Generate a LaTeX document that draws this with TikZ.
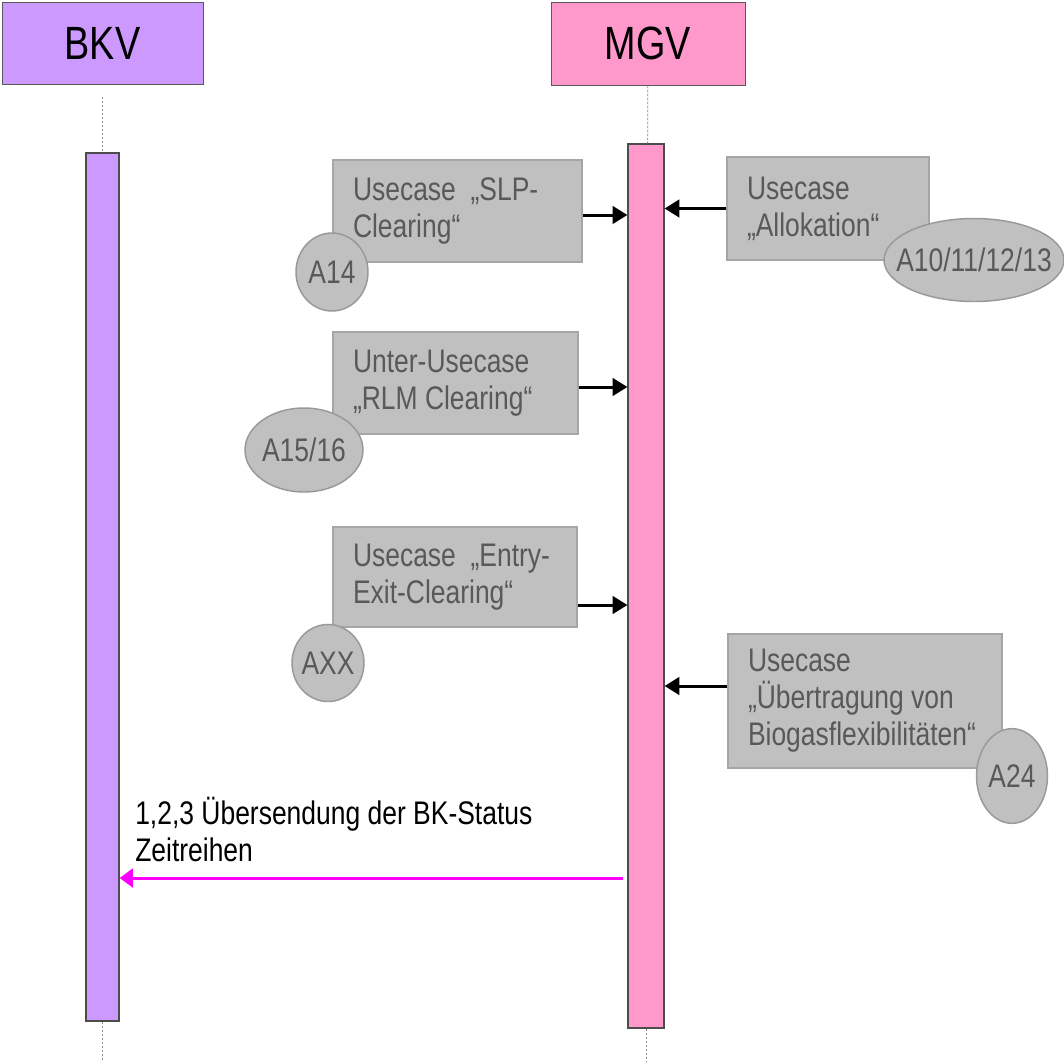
\documentclass[tikz,border=0pt]{standalone}
\usepackage{fontspec}
\setmainfont{Liberation Sans}[FakeStretch=0.81]
\usetikzlibrary{shapes.geometric,arrows.meta}
\definecolor{bkvcol}{HTML}{CC99FF}
\definecolor{mgvcol}{HTML}{FF99CC}
\definecolor{ucfill}{HTML}{C0C0C0}
\definecolor{ucline}{HTML}{A6A6A6}
\definecolor{uctext}{HTML}{595959}
\definecolor{tagline}{HTML}{999999}
\definecolor{msgcol}{HTML}{FF00FF}
\newcommand{\headfont}{\fontsize{35}{40}\selectfont}
\newcommand{\ucfont}{\fontsize{24.5}{27.75}\selectfont}
\tikzset{
  >={Triangle[length=11pt,width=13pt]},
  actor/.style={draw=black!65, line width=0.75pt, minimum height=61pt, font=\headfont},
  bar/.style={draw=black!70, line width=0.9pt, inner sep=0pt},
  lifeline/.style={draw=black!45, line width=0.6pt, dash pattern=on 2pt off 1pt},
  usecase/.style={draw=ucline, fill=ucfill, text=uctext, line width=1.2pt,
    inner xsep=15pt, inner ysep=0pt, text width=#1, align=left, font=\ucfont,
    execute at begin node={\spaceskip=0pt\xspaceskip=0pt}},
  tag/.style={ellipse, draw=tagline, fill=ucfill, line width=1.1pt, inner sep=0pt,
    label={[text=uctext, font=\ucfont]center:#1}},
  flow/.style={->, line width=2.25pt},
  msg/.style={-{Triangle[length=10pt,width=14pt]}, draw=msgcol, line width=2.25pt},
}

\begin{document}
\begin{tikzpicture}[x=0.75pt, y=-0.75pt]
  \useasboundingbox (0,0) rectangle (1064,1061);

  % Kopf der beiden Rollen
  \node[actor, fill=bkvcol, minimum width=150.75pt] (bkv) at (102.5,43.5) {BKV};
  \node[actor, fill=mgvcol, minimum width=145.5pt, minimum height=62.25pt] (mgv) at (648,43.5) {MGV};

  % Aktivierungsbalken und Lebenslinien
  \node[bar, fill=bkvcol, minimum width=24.75pt, minimum height=651pt] (bkvbar) at (102.5,587) {};
  \node[bar, fill=mgvcol, minimum width=27pt, minimum height=663pt] (mgvbar) at (646,586) {};
  \coordinate (bkvend) at (102.5,1061);
  \coordinate (mgvend) at (646,1061);
  \draw[lifeline, shorten <=9pt] (bkv) -- (bkvbar);
  \draw[lifeline] (bkvbar) -- (bkvend);
  \draw[lifeline] (mgv) -- (mgvbar);
  \draw[lifeline] (mgvbar) -- (mgvend);

  % Usecases
  \node[usecase=156.75pt, minimum height=76.5pt]  (slp)    at (457.5,211) {Usecase\ \ „SLP-\\Clearing“};
  \node[usecase=121.5pt,  minimum height=77.25pt] (allok)  at (828,208.5) {Usecase\\„Allokation“};
  \node[usecase=153.75pt, minimum height=76.5pt]  (rlm)    at (455.5,383) {Unter-Usecase\\„RLM Clearing“};
  \node[usecase=153pt,    minimum height=75pt]    (entry)  at (455,577)   {\mbox{Usecase\ \ „Entry-}\\Exit-Clearing“};
  \node[usecase=175.5pt,  minimum height=100.5pt] (biogas) at (865,701)   {Usecase\\„Übertragung von\\Biogasflexibilitäten“};

  % Kennungen
  \node[tag=A14,          minimum width=54pt,   minimum height=58.5pt]  (a14)   at (332,272) {};
  \node[tag=A10/11/12/13, minimum width=135pt,  minimum height=62.25pt] (a10)   at (974,260) {};
  \node[tag=A15/16,       minimum width=88.5pt, minimum height=63pt]    (a15)   at (304,450) {};
  \node[tag=AXX,          minimum width=54pt,   minimum height=57.75pt] (axx)   at (328,663) {};
  \node[tag=A24,          minimum width=53.25pt,minimum height=71pt]    (a24)   at (1012,776) {};

  \path[flow]
    ([yshift=-3pt]slp.east)     edge ([yshift=-3pt]slp.east -| mgvbar.west)
    (allok.west)                edge (allok.west -| mgvbar.east)
    ([yshift=-3pt]rlm.east)     edge ([yshift=-3pt]rlm.east -| mgvbar.west)
    ([yshift=-21pt]entry.east)  edge ([yshift=-21pt]entry.east -| mgvbar.west)
    ([yshift=11.25pt]biogas.west) edge ([yshift=11.25pt]biogas.west -| mgvbar.east);

  % Nachricht an den BKV
  \node[anchor=base west, inner sep=0pt, align=left, font=\ucfont] (msgtext) at (135,861)
    {1,2,3 Übersendung der BK-Status\\Zeitreihen};
  \coordinate (msgy) at (0,878);
  \draw[msg, shorten <=3pt] (mgvbar.west |- msgy) -- (bkvbar.east |- msgy);
\end{tikzpicture}
\end{document}
